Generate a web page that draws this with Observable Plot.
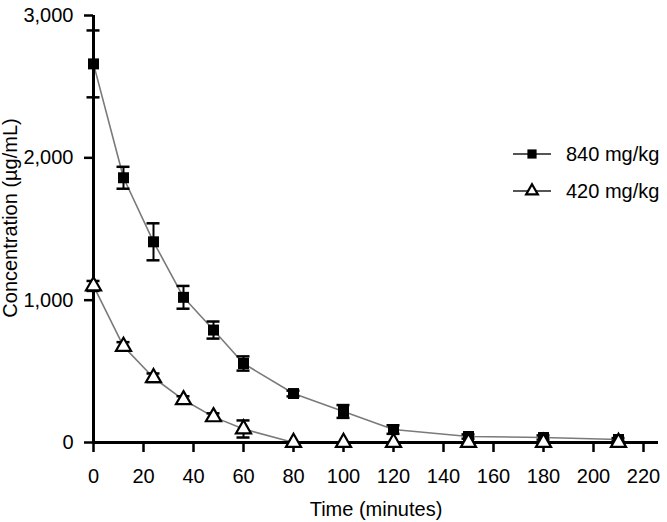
<!DOCTYPE html>
<html>
<head>
<meta charset="utf-8">
<script src="https://cdn.jsdelivr.net/npm/d3@7"></script>
<script src="https://cdn.jsdelivr.net/npm/@observablehq/plot@0.6"></script>
<style>
  html, body { margin: 0; padding: 0; background: #fff; }
  #chart { position: relative; width: 667px; height: 522px; font-family: "Liberation Sans", Arial, Helvetica, sans-serif; }
  #chart svg.plot { position: absolute; left: 0; top: 0; }
  .legend { position: absolute; left: 512px; top: 142px; font-size: 20px; color: #000; }
  .legend .row { display: flex; align-items: center; height: 24px; margin-bottom: 13px; }
  .legend svg { display: block; margin-right: 14px; }
</style>
</head>
<body>
<div id="chart"></div>
<script>
// ---- data ----
const times   = [0, 12, 24, 36, 48, 60, 80, 100, 120, 150, 180, 210];
const conc840 = [2660, 1860, 1410, 1020, 790, 555, 344, 218, 91, 42, 35, 21];
const err840  = [235, 77, 130, 80, 60, 50, 20, 45, 30, 15, 15, 10];
const conc420 = [1100, 675, 455, 300, 180, 95, 0, 0, 0, 0, 0, 0];
const err420  = [35, 30, 30, 25, 25, 60, 0, 0, 0, 0, 0, 0];
const seriesNames = ["840 mg/kg", "420 mg/kg"];
const xTicks = [0, 20, 40, 60, 80, 100, 120, 140, 160, 180, 200, 220];
const yTicks = [0, 1000, 2000, 3000];
const xLabel = "Time (minutes)";
const yLabel = "Concentration (µg/mL)";

const rows840 = times.map((t, i) => ({t, v: conc840[i], e: err840[i], s: seriesNames[0]}));
const rows420 = times.map((t, i) => ({t, v: conc420[i], e: err420[i], s: seriesNames[1]}));
const allRows = rows840.concat(rows420);
const errRows = allRows.filter(d => d.e > 0);
const capRows = errRows.flatMap(d => [{t: d.t, y: d.v + d.e}, {t: d.t, y: Math.max(0, d.v - d.e)}]);

const font = '"Liberation Sans", Arial, Helvetica, sans-serif';

const plot = Plot.plot({
  width: 667,
  height: 522,
  marginLeft: 93,
  marginRight: 9,
  marginTop: 15,
  marginBottom: 80,
  style: {fontFamily: font, fontSize: "20px", color: "#000", background: "#fff", overflow: "visible"},
  x: {domain: [0, 226], label: null},
  y: {domain: [0, 3000], label: null},
  marks: [
    Plot.axisX({ticks: xTicks, tickSize: 10, tickPadding: 16, strokeWidth: 2.5, fontSize: 20, label: null}),
    Plot.axisY({ticks: yTicks, tickSize: 9, tickPadding: 11, strokeWidth: 2.5, fontSize: 20, tickFormat: d3.format(","), label: null}),
    Plot.text([xLabel], {frameAnchor: "bottom", dy: 73, fontSize: 20, fill: "#000"}),
    Plot.text([yLabel], {frameAnchor: "left", textAnchor: "middle", rotate: -90, dx: -83, dy: -11, fontSize: 20, fill: "#000"}),
    Plot.line(rows840, {x: "t", y: "v", stroke: "#7a7a7a", strokeWidth: 1.6}),
    Plot.line(rows420, {x: "t", y: "v", stroke: "#7a7a7a", strokeWidth: 1.6}),
    Plot.ruleX(errRows, {x: "t", y1: d => Math.max(0, d.v - d.e), y2: d => d.v + d.e, stroke: "#000", strokeWidth: 2}),
    Plot.ruleY(capRows, {y: "y", x1: "t", x2: "t", insetLeft: -6.5, insetRight: -6.5, stroke: "#000", strokeWidth: 2.5}),
    Plot.ruleY([0], {stroke: "#000", strokeWidth: 3}),
    Plot.ruleX([0], {stroke: "#000", strokeWidth: 3}),
    Plot.dot(rows840, {x: "t", y: "v", symbol: "square", r: 6.2, fill: "#000", stroke: "none"}),
    Plot.dot(rows420, {x: "t", y: "v", symbol: "triangle", r: 5.6, fill: "#fff", stroke: "#000", strokeWidth: 2.2})
  ]
});

const chart = document.getElementById("chart");
chart.appendChild(plot);

// ---- legend ----
const legend = document.createElement("div");
legend.className = "legend";
const sq = d3.symbol(d3.symbolSquare, Math.PI * 6.2 * 6.2 * 0.7)();
const tri = d3.symbol(d3.symbolTriangle2, Math.PI * 5.6 * 5.6)();
const legendShapes = [
  `<path d="${sq}" transform="translate(20,12)" fill="#000"/>`,
  `<path d="${tri}" transform="translate(20,12)" fill="#fff" stroke="#000" stroke-width="2.2"/>`
];
seriesNames.forEach((name, i) => {
  const row = document.createElement("div");
  row.className = "row";
  row.innerHTML = `<svg width="40" height="24"><line x1="1" x2="39" y1="12" y2="12" stroke="#555" stroke-width="2"/>${legendShapes[i]}</svg><span>${name}</span>`;
  legend.appendChild(row);
});
chart.appendChild(legend);
</script>
</body>
</html>
